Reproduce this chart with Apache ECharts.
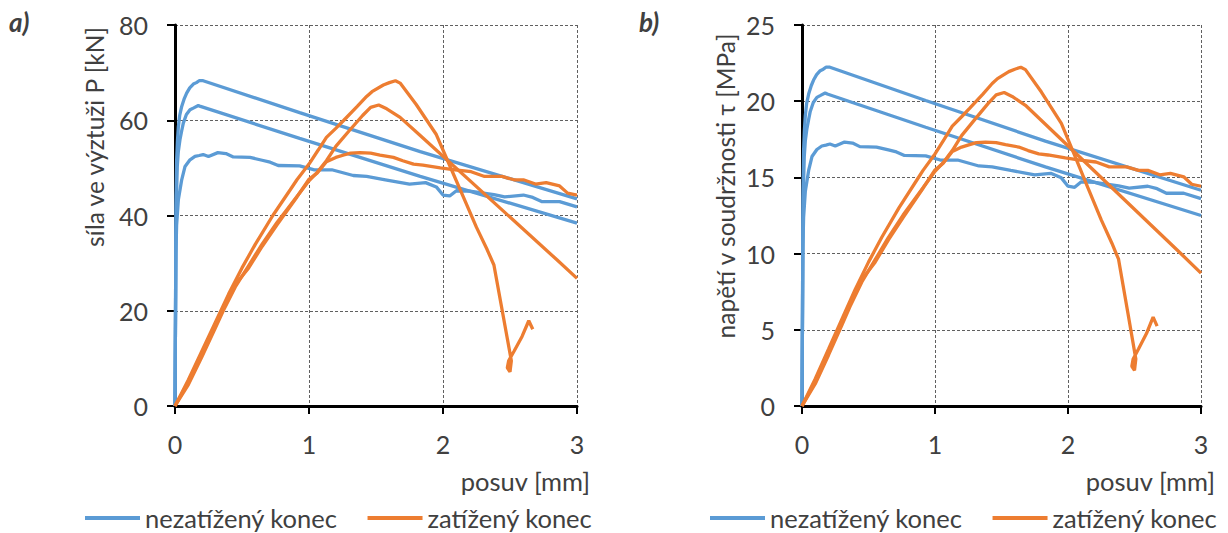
<!DOCTYPE html>
<html>
<head>
<meta charset="utf-8">
<script src="https://cdn.jsdelivr.net/npm/echarts@6/dist/echarts.min.js"></script>
<style>
	html, body { margin: 0; padding: 0; background: #fff; }
	#chart { width: 1228px; height: 533px; }
</style>
</head>
<body>
<div id="chart"></div>
<script>
	// posuv [mm] for each curve (shared by both panels)
	var xBlue1 = [0, 0.004, 0.006, 0.008, 0.012, 0.018, 0.025, 0.035, 0.05, 0.07, 0.087, 0.11, 0.137, 0.16, 0.18, 0.21, 0.93, 1.83, 3];
	var xBlue2 = [0, 0.004, 0.006, 0.009, 0.017, 0.025, 0.037, 0.05, 0.062, 0.085, 0.112, 0.14, 0.174, 0.19, 0.93, 1.83, 3];
	var xBlue3 = [0, 0.004, 0.007, 0.012, 0.025, 0.05, 0.075, 0.112, 0.149, 0.18, 0.21, 0.25, 0.32, 0.38, 0.435, 0.56, 0.65, 0.71, 0.77, 0.93,
		1.04, 1.17, 1.33, 1.43, 1.57, 1.75, 1.87, 1.95, 2.0, 2.05, 2.1, 2.2, 2.38, 2.46, 2.6, 2.67, 2.74, 2.87, 3];
	var xOrange1 = [0, 0.1, 0.2, 0.3, 0.4, 0.5, 0.6, 0.73, 0.86, 0.91, 1.0, 1.07, 1.13, 1.2, 1.26, 1.36, 1.43, 1.47, 1.555, 1.6, 1.645, 1.68,
		1.8, 1.95, 2.05, 2.15, 2.25, 2.33, 2.38, 2.45, 2.51, 2.5, 2.48, 2.49, 2.53, 2.59, 2.64, 2.67];
	var xOrange2 = [0, 0.1, 0.2, 0.3, 0.36, 0.45, 0.55, 0.65, 0.76, 0.91, 1.0, 1.06, 1.13, 1.2, 1.3, 1.4, 1.46, 1.52, 1.58, 1.68, 1.83, 2.85, 3];
	var xOrange3 = [0, 0.1, 0.2, 0.3, 0.36, 0.45, 0.55, 0.65, 0.76, 0.91, 1.0, 1.06, 1.13, 1.2, 1.26, 1.31, 1.38, 1.46, 1.53, 1.63, 1.7, 1.78,
		1.85, 1.98, 2.09, 2.21, 2.31, 2.44, 2.53, 2.6, 2.69, 2.77, 2.87, 2.93, 3];

	// a) síla ve výztuži P [kN]
	var pBlue1 = [0, 20, 35, 44, 51.5, 55.5, 58.6, 61, 62.9, 64.6, 65.7, 66.8, 67.6, 67.9, 68.3, 68.3, 61.6, 53.4, 43.5];
	var pBlue2 = [0, 20, 35, 42, 50.3, 53.5, 55.9, 57.8, 59.4, 61.2, 62.2, 62.6, 63.1, 62.9, 56.2, 48.2, 38.4];
	var pBlue3 = [0, 20, 32, 38, 43.3, 47.5, 50.3, 51.7, 52.4, 52.6, 52.8, 52.4, 53.2, 53, 52.3, 52.2, 51.6, 51.2, 50.5, 50.4,
		49.6, 49.6, 48.4, 48.2, 47.5, 46.6, 46.9, 46, 44.3, 44.1, 45.2, 45.1, 44.4, 43.9, 44.3, 43.8, 42.9, 42.9, 41.8];
	var pOrange1 = [0, 5.5, 11.5, 17.5, 23.5, 29, 34, 40, 45.4, 47.5, 50.8, 53.8, 56.4, 58.3, 60, 62.9, 65, 66, 67.4, 67.9, 68.3, 67.8,
		63.3, 57, 50.5, 44, 37.5, 32.8, 29.6, 18.8, 9.5, 7.2, 8, 9.5, 11.5, 14.6, 17.9, 16.1];
	var pOrange2 = [0, 4.5, 10.3, 16.3, 20, 25, 29.5, 34, 38.5, 44, 47.3, 49, 51.5, 54.5, 57.8, 61, 62.7, 63.2, 62.4, 60.6, 56.8, 30.7, 26.8];
	var pOrange3 = [0, 5, 11, 17, 20.5, 25.5, 29, 33.5, 38, 43.9, 47.6, 48.9, 51.3, 52.2, 52.7, 53.1, 53.2, 53.1, 52.7, 52.2, 51.5, 50.8,
		50.6, 50, 49.6, 49.2, 48.2, 48.2, 47.5, 47.5, 46.6, 46.9, 46.2, 44.7, 44.3];

	// b) napětí v soudržnosti τ [MPa]
	var tBlue1 = [0, 6.51, 11.39, 14.32, 16.76, 18.07, 19.07, 19.86, 20.47, 21.03, 21.39, 21.74, 22.0, 22.1, 22.23, 22.23, 20.05, 17.38, 14.16];
	var tBlue2 = [0, 6.51, 11.39, 13.67, 16.37, 17.41, 18.2, 18.81, 19.33, 19.92, 20.25, 20.38, 20.54, 20.47, 18.29, 15.69, 12.5];
	var tBlue3 = [0, 6.51, 10.42, 12.37, 14.09, 15.46, 16.37, 16.83, 17.06, 17.12, 17.19, 17.06, 17.32, 17.25, 17.02, 16.99, 16.8, 16.67, 16.44, 16.41,
		16.14, 16.14, 15.75, 15.69, 15.46, 15.17, 15.27, 14.97, 14.42, 14.35, 14.71, 14.68, 14.45, 14.29, 14.42, 14.26, 13.96, 13.96, 13.61];
	var tOrange1 = [0, 1.79, 3.74, 5.7, 7.65, 9.44, 11.07, 13.02, 14.78, 15.46, 16.54, 17.51, 18.36, 18.98, 19.53, 20.47, 21.16, 21.48, 21.94, 22.1, 22.23, 22.07,
		20.6, 18.55, 16.44, 14.32, 12.21, 10.68, 9.63, 6.12, 3.09, 2.34, 2.6, 3.09, 3.74, 4.75, 5.83, 5.24];
	var tOrange2 = [0, 1.46, 3.35, 5.31, 6.51, 8.14, 9.6, 11.07, 12.53, 14.32, 15.4, 15.95, 16.76, 17.74, 18.81, 19.86, 20.41, 20.57, 20.31, 19.73, 18.49, 9.99, 8.72];
	var tOrange3 = [0, 1.63, 3.58, 5.53, 6.67, 8.3, 9.44, 10.9, 12.37, 14.29, 15.49, 15.92, 16.7, 16.99, 17.15, 17.28, 17.32, 17.28, 17.15, 16.99, 16.76, 16.54,
		16.47, 16.28, 16.14, 16.01, 15.69, 15.69, 15.46, 15.46, 15.17, 15.27, 15.04, 14.55, 14.42];

	var xTicks = [0, 3, 1];
	var yTicksA = [0, 80, 20];
	var yTicksB = [0, 25, 5];

	var nameBlue = 'nezatížený konec';
	var nameOrange = 'zatížený konec';
	var colorBlue = '#5B9BD5';
	var colorOrange = '#ED7D31';
	var font = 'Lato';

	function pairs(xs, ys) {
		var out = [];
		for (var i = 0; i < xs.length; i++) {
			out.push([xs[i], ys[i]]);
		}
		return out;
	}

	function curve(name, color, xs, ys, idx) {
		return {
			name: name,
			type: 'line',
			xAxisIndex: idx,
			yAxisIndex: idx,
			data: pairs(xs, ys),
			showSymbol: false,
			symbol: 'none',
			lineStyle: { color: color, width: 3.3 },
			itemStyle: { color: color },
			animation: false
		};
	}

	function xAxis(idx) {
		return {
			type: 'value',
			gridIndex: idx,
			min: xTicks[0],
			max: xTicks[1],
			interval: xTicks[2],
			axisLine: { onZero: false, lineStyle: { color: '#000', width: 3 } },
			axisTick: { show: true, length: 8, lineStyle: { color: '#000', width: 2 } },
			axisLabel: { color: '#404040', fontSize: 25, fontFamily: font, margin: 25 },
			splitLine: { show: true, lineStyle: { color: '#606060', type: [3, 2], width: 1 } }
		};
	}

	function yAxis(idx, ticks) {
		return {
			type: 'value',
			gridIndex: idx,
			min: ticks[0],
			max: ticks[1],
			interval: ticks[2],
			axisLine: { show: true, lineStyle: { color: '#000', width: 3 } },
			axisTick: { show: true, length: 8, lineStyle: { color: '#000', width: 2 } },
			axisLabel: { color: '#404040', fontSize: 25, fontFamily: font, margin: 27 },
			splitLine: { show: true, lineStyle: { color: '#606060', type: [3, 2], width: 1 } }
		};
	}

	function legend(left) {
		return {
			left: left,
			top: 505,
			width: 516,
			padding: 0,
			icon: 'rect',
			itemWidth: 55,
			itemHeight: 4,
			itemGap: 30,
			data: [nameBlue, nameOrange],
			textStyle: { color: '#404040', fontSize: 25.5, lineHeight: 26, fontFamily: font }
		};
	}

	function label(text, x, y, rotate, align, fontSpec) {
		return {
			type: 'text',
			x: x,
			y: y,
			rotation: rotate,
			silent: true,
			style: {
				text: text,
				fill: '#404040',
				font: fontSpec,
				align: align,
				verticalAlign: 'middle'
			}
		};
	}

	var myChart = echarts.init(document.getElementById('chart'), null, { renderer: 'svg' });

	option = {
		backgroundColor: '#fff',
		animation: false,
		grid: [
			{ left: 175, right: 651, top: 25, bottom: 127 },
			{ left: 802, right: 27, top: 25, bottom: 127 }
		],
		xAxis: [xAxis(0), xAxis(1)],
		yAxis: [yAxis(0, yTicksA), yAxis(1, yTicksB)],
		legend: [legend(85), legend(710)],
		graphic: [
			label('a)', 9, 22, 0, 'left', 'italic bold 26px ' + font),
			label('b)', 639, 22, 0, 'left', 'italic bold 26px ' + font),
			label('síla ve výztuži P [kN]', 94, 137, Math.PI / 2, 'center', '24.5px ' + font),
			label('napětí v soudržnosti τ [MPa]', 725, 186, Math.PI / 2, 'center', '24.5px ' + font),
			label('posuv [mm]', 590, 481, 0, 'right', '25.5px ' + font),
			label('posuv [mm]', 1215, 481, 0, 'right', '25.5px ' + font)
		],
		series: [
			curve(nameBlue, colorBlue, xBlue1, pBlue1, 0),
			curve(nameBlue, colorBlue, xBlue2, pBlue2, 0),
			curve(nameBlue, colorBlue, xBlue3, pBlue3, 0),
			curve(nameOrange, colorOrange, xOrange1, pOrange1, 0),
			curve(nameOrange, colorOrange, xOrange2, pOrange2, 0),
			curve(nameOrange, colorOrange, xOrange3, pOrange3, 0),
			curve(nameBlue, colorBlue, xBlue1, tBlue1, 1),
			curve(nameBlue, colorBlue, xBlue2, tBlue2, 1),
			curve(nameBlue, colorBlue, xBlue3, tBlue3, 1),
			curve(nameOrange, colorOrange, xOrange1, tOrange1, 1),
			curve(nameOrange, colorOrange, xOrange2, tOrange2, 1),
			curve(nameOrange, colorOrange, xOrange3, tOrange3, 1)
		]
	};

	myChart.setOption(option);
</script>
</body>
</html>
